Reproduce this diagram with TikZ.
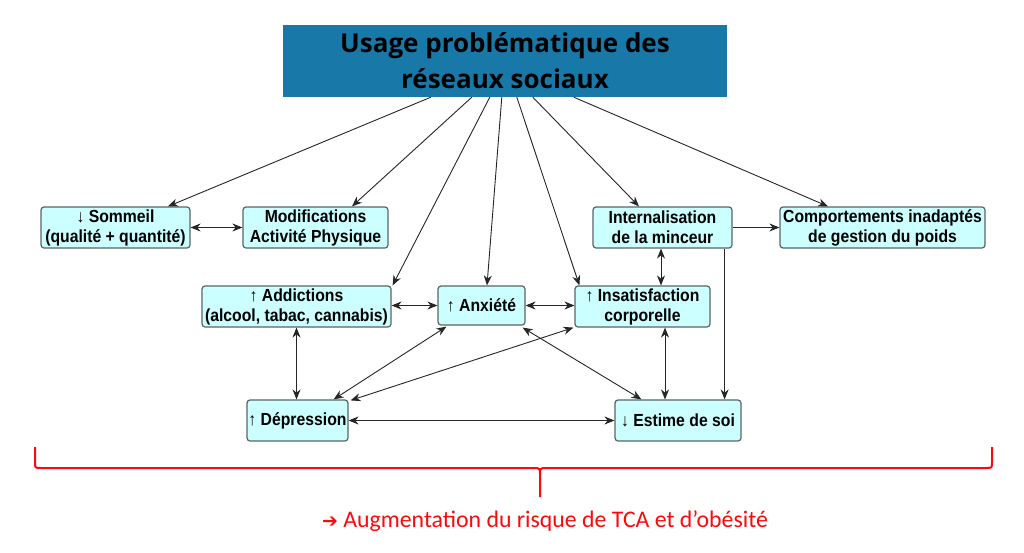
\documentclass[tikz,border=0pt]{standalone}
\usepackage{fontspec}
\setmainfont{Liberation Sans}
\newfontfamily\boxfont{Liberation Sans}[FakeStretch=0.9]
\newfontfamily\titlefont{Open Sans}
\newfontfamily\calfont{Carlito}
\newfontfamily\symfont{DejaVu Sans}
\usetikzlibrary{arrows.meta,calc}
\definecolor{titleblue}{RGB}{24,120,168}
\definecolor{boxfill}{RGB}{204,255,255}
\definecolor{boxline}{RGB}{90,100,100}
\definecolor{bracered}{RGB}{250,10,10}
\begin{document}
\begin{tikzpicture}[x=1pt,y=-1pt,
  box/.style={draw=boxline, fill=boxfill, line width=1.2pt, rounded corners=3pt,
    inner sep=1pt, align=center, minimum height=41pt,
    font=\boxfont\bfseries\fontsize{17.5}{20}\selectfont},
  arr/.style={draw=black!85, line width=0.9pt, -{Stealth[length=10pt,width=8pt]}},
  biarr/.style={draw=black!85, line width=0.9pt, {Stealth[length=10pt,width=8pt]}-{Stealth[length=10pt,width=8pt]}},
  brace/.style={draw=bracered, line width=2pt}]
\fill[white] (0,0) rectangle (1024,552);
\useasboundingbox (0,0) rectangle (1024,552);

\node[fill=titleblue, minimum width=444pt, minimum height=72pt, inner sep=0pt, align=center,
  font=\titlefont\bfseries\fontsize{26}{36}\selectfont] (title) at (505,61)
  {Usage problématique des\\réseaux sociaux};

\node[box, minimum width=149pt] (somm) at (115.5,227.5) {↓ Sommeil\\(qualité + quantité)};
\node[box, minimum width=145pt] (modif) at (315.5,227.5) {Modifications\\Activité Physique};
\node[box, minimum width=139pt] (intern) at (662.5,227.5) {Internalisation\\de la minceur};
\node[box, minimum width=205pt] (comp) at (882.5,227.5) {Comportements inadaptés\\de gestion du poids};
\node[box, minimum width=189pt] (addic) at (296.5,306.5) {↑ Addictions\\(alcool, tabac, cannabis)};
\node[box, minimum width=87pt, minimum height=39pt] (anx) at (481.5,305.5) {↑ Anxiété};
\node[box, minimum width=135pt] (insat) at (642.5,306.5) {↑ Insatisfaction\\corporelle};
\node[box, minimum width=101pt] (depr) at (297.5,420.5) {↑ Dépression};
\node[box, minimum width=126pt] (estime) at (678,420.5) {↓ Estime de soi};

% from title
\draw[arr] ($(title.south west)+(148,0)$) -- ($(somm.north)+(52.5,0)$);
\draw[arr] ($(title.south west)+(189,0)$) -- ($(modif.north)+(36.5,0)$);
\draw[arr] ($(title.south west)+(207,0)$) -- ($(addic.north east)+(1,0)$);
\draw[arr] ($(title.south west)+(219,0)$) -- ($(anx.north)+(5.5,0)$);
\draw[arr] ($(title.south west)+(234,0)$) -- ($(insat.north west)+(5,0)$);
\draw[arr] ($(title.south west)+(250,0)$) -- ($(intern.north)+(-23.5,0)$);
\draw[arr] ($(title.south west)+(291,0)$) -- ($(comp.north)+(-54.5,0)$);

% horizontal links
\draw[biarr] (somm.east) -- (modif.west);
\draw[arr] (intern.east) -- (comp.west);
\draw[biarr] (addic.east |- anx.west) -- (anx.west);
\draw[biarr] (anx.east) -- (insat.west |- anx.east);
\draw[biarr] (depr.east) -- (estime.west);

% vertical links
\draw[biarr] ($(intern.south)+(-1.5,0)$) -- ($(insat.north)+(18.5,0)$);
\draw[biarr] ($(insat.south)+(22.5,0)$) -- ($(estime.north)+(-13,0)$);
\draw[arr] ($(intern.south east)+(-8,0)$) -- ($(estime.north east)+(-17,0)$);
\draw[biarr] (addic.south) -- (addic.south |- depr.north);

% diagonal links
\draw[biarr] ($(anx.south west)+(9,1)$) -- ($(depr.north east)+(-15,0)$);
\draw[biarr] ($(insat.south west)+(-1,0)$) -- ($(depr.north east)+(2,1)$);
\draw[biarr] ($(anx.south east)+(-3,2)$) -- ($(estime.north west)+(27,0)$);

% brace
\coordinate (bl) at (35,447);
\coordinate (br) at (992,447);
\coordinate (btip) at (540,497);
\draw[brace] (bl) -- (35,462) .. controls (35,468) .. (41,468) -- (533,468)
  .. controls (540,468) .. (540,475) -- (btip);
\draw[brace] (br) -- (992,462) .. controls (992,468) .. (986,468) -- (547,468)
  .. controls (540,468) .. (540,475);

\node[text=bracered, font=\calfont\fontsize{23.8}{26}\selectfont, inner sep=0pt] (result) at (545,521)
  {{\symfont\fontsize{19}{20}\selectfont ➔} Augmentation du risque de TCA et d’obésité};
\end{tikzpicture}
\end{document}
